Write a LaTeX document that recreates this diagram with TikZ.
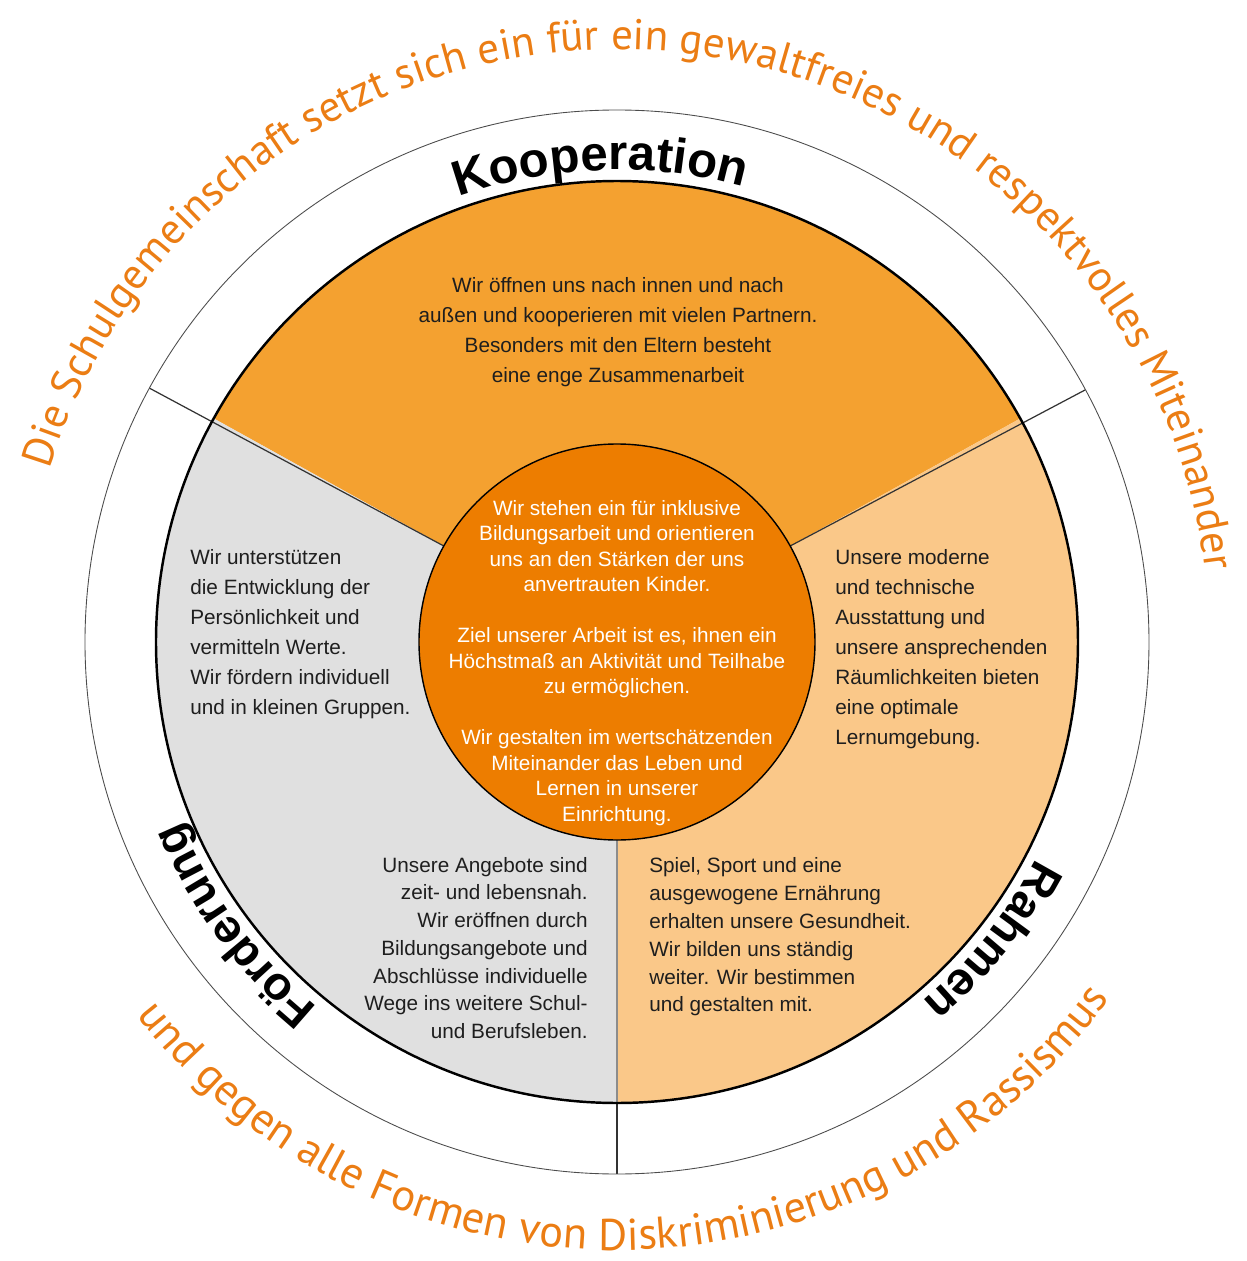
\documentclass[tikz,border=0pt]{standalone}
\usepackage{fontspec}
\setmainfont{Liberation Sans}
\newfontfamily\bogenschrift{PT Sans}
\usetikzlibrary{decorations.text}

\definecolor{kooporange}{RGB}{244,161,48}
\definecolor{kernorange}{RGB}{237,125,0}
\definecolor{rahmenbeige}{RGB}{250,200,137}
\definecolor{foerdergrau}{RGB}{224,224,224}
\definecolor{bogenorange}{RGB}{235,125,20}
\definecolor{schrift}{RGB}{30,30,30}

\newcommand\titelfont{\fontsize{28}{28}\bfseries\selectfont}
\newcommand\kleintitelfont{\fontsize{26.5}{26.5}\bfseries\selectfont}
\newcommand\bogenfont{\bogenschrift\fontsize{24.5}{24.5}\selectfont\color{bogenorange}}
\newcommand\untenfont{\bogenschrift\fontsize{25.3}{25.3}\selectfont\color{bogenorange}}

\begin{document}
\begin{tikzpicture}
[sektortext/.style={text=schrift, inner sep=0pt, font=\fontsize{11.8}{17.1}\selectfont},
engtext/.style={sektortext, font=\fontsize{11.8}{15.8}\selectfont},
kerntext/.style={text=white, align=center, inner sep=0pt, font=\fontsize{11.8}{14.5}\selectfont},
trenner/.style={draw=black!80, line width=0.7pt},
bogen/.style={decorate, decoration={text along path, text align=center, text={#1}}}]
  \useasboundingbox (-12.34,-12.38) rectangle (12.60,12.84);
  \fill[kooporange] (0,0) -- (29:9.22) arc[start angle=29, end angle=151, radius=9.22] -- cycle;
  \fill[foerdergrau] (0,0) -- (151:9.22) arc[start angle=151, end angle=270, radius=9.22] -- cycle;
  \fill[rahmenbeige] (0,0) -- (270:9.22) arc[start angle=270, end angle=389, radius=9.22] -- cycle;
  \draw[trenner] (151:3.96) -- (151.5:10.64);
  \draw[trenner] (29:3.96) -- (28.3:10.64);
  \draw[trenner, draw=black!45] (270:3.96) -- (270:9.22);
  \draw[trenner] (270:9.22) -- (270:10.64);
  \draw[black!70, line width=0.5pt] (0,0) circle[radius=10.64];
  \draw[black, line width=1.4pt] (0,0) circle[radius=9.22];
  \draw[fill=kernorange, line width=0.8pt] (0,0) circle[radius=3.96];

  \path[bogen={|\titelfont|Kooperation}] (152:9.44) arc[start angle=152, end angle=32, radius=9.44];
  \path[bogen={|\kleintitelfont|Förderung}] (246.5:9.44) arc[start angle=246.5, end angle=186.5, radius=9.44];
  \path[bogen={|\kleintitelfont|Rahmen}] (351.5:9.44) arc[start angle=351.5, end angle=291.5, radius=9.44];

  \path[bogen={|\bogenfont|Die Schulgemeinschaft setzt sich ein für ein gewaltfreies und respektvolles Miteinander}]
    (178:11.85) arc[start angle=178, end angle=-8, radius=11.85];
  \path[bogen={|\untenfont|und gegen alle Formen von Diskriminierung und Rassismus}]
    (200:12.16) arc[start angle=200, end angle=342, radius=12.16];

  \node[sektortext, align=center] (kooperation) at (0.02,6.2)
    {Wir öffnen uns nach innen und nach\\außen und kooperieren mit vielen Partnern.\\Besonders mit den Eltern besteht\\eine enge Zusammenarbeit};
  \node[kerntext] (kern) at (0,-0.42)
    {Wir stehen ein für inklusive\\Bildungsarbeit und orientieren\\uns an den Stärken der uns\\anvertrauten Kinder.\\[14.5pt]
     Ziel unserer Arbeit ist es, ihnen ein\\Höchstmaß an Aktivität und Teilhabe\\zu ermöglichen.\\[14.5pt]
     Wir gestalten im wertschätzenden\\Miteinander das Leben und\\Lernen in unserer\\Einrichtung.};
  \node[sektortext, align=left, anchor=west] (foerderung oben) at (-8.54,0.15)
    {Wir unterstützen\\die Entwicklung der\\Persönlichkeit und\\vermitteln Werte.\\Wir fördern individuell\\und in kleinen Gruppen.};
  \node[engtext, align=right, anchor=east] (foerderung unten) at (-0.58,-6.12)
    {Unsere Angebote sind\\zeit- und lebensnah.\\Wir eröffnen durch\\Bildungsangebote und\\Abschlüsse individuelle\\Wege ins weitere Schul-\\und Berufsleben.};
  \node[sektortext, align=left, anchor=west] (rahmen oben) at (4.36,-0.14)
    {Unsere moderne\\und technische\\Ausstattung und\\unsere ansprechenden\\Räumlichkeiten bieten\\eine optimale\\Lernumgebung.};
  \node[engtext, align=left, anchor=west] (rahmen unten) at (0.64,-5.9)
    {Spiel, Sport und eine\\ausgewogene Ernährung\\erhalten unsere Gesundheit.\\Wir bilden uns ständig\\weiter. Wir bestimmen\\und gestalten mit.};
\end{tikzpicture}
\end{document}
